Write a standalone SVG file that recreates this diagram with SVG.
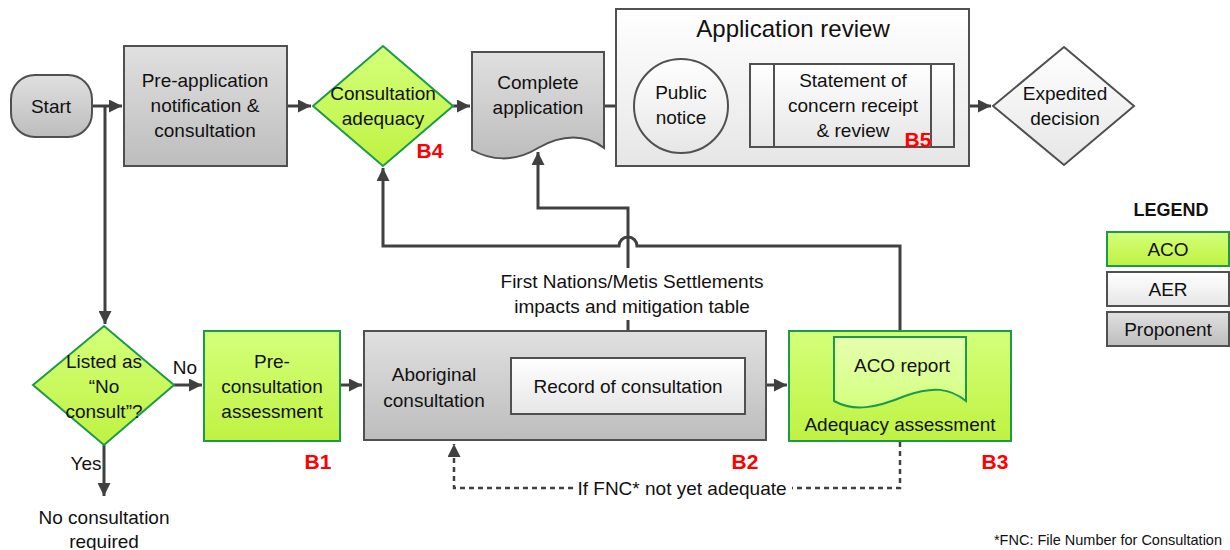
<svg xmlns="http://www.w3.org/2000/svg" width="1230" height="550" viewBox="0 0 1230 550">
<defs>
<linearGradient id="gGrey" x1="0" y1="0" x2="0" y2="1"><stop offset="0" stop-color="#e0e0e0"/><stop offset="1" stop-color="#bdbdbd"/></linearGradient>
<linearGradient id="gGreen" x1="0" y1="0" x2="0" y2="1"><stop offset="0" stop-color="#d4ff7a"/><stop offset="1" stop-color="#bff242"/></linearGradient>
<linearGradient id="gWhite" x1="0" y1="0" x2="0" y2="1"><stop offset="0" stop-color="#ffffff"/><stop offset="1" stop-color="#e6e6e6"/></linearGradient>
<linearGradient id="gLightGreen" x1="0" y1="0" x2="0" y2="1"><stop offset="0" stop-color="#e6ffb0"/><stop offset="1" stop-color="#d4ff80"/></linearGradient>
<marker id="arr" viewBox="0 0 10 10" refX="10" refY="5" markerWidth="13" markerHeight="13" markerUnits="userSpaceOnUse" orient="auto"><path d="M0,0 L10,5 L0,10 z" fill="#404040"/></marker>
</defs>
<style>
text{font-family:"Liberation Sans",Arial,sans-serif;font-size:19px;fill:#111;text-anchor:middle}
.grey{fill:url(#gGrey);stroke:#505050;stroke-width:2}
.green{fill:url(#gGreen);stroke:#1c9a4a;stroke-width:2}
.white{fill:url(#gWhite);stroke:#505050;stroke-width:2}
.conn{fill:none;stroke:#404040;stroke-width:3}
.dash{fill:none;stroke:#404040;stroke-width:2.5;stroke-dasharray:5 4}
.red{fill:#ff0000;font-weight:bold;font-size:21px}
.lbl{font-size:19px}
</style>

<g id="connectors">
<path class="conn" d="M92,106 H122" marker-end="url(#arr)"/>
<path class="conn" d="M105,106 V324" marker-end="url(#arr)"/>
<path class="conn" d="M287,106 H311" marker-end="url(#arr)"/>
<path class="conn" d="M453,106 H470" marker-end="url(#arr)"/>
<path class="conn" d="M604,106 H632" marker-end="url(#arr)"/>
<path class="conn" d="M728,106 H748" marker-end="url(#arr)"/>
<path class="conn" d="M954,106 H991" marker-end="url(#arr)"/>
<path class="conn" d="M174,385 H202" marker-end="url(#arr)"/>
<path class="conn" d="M104,445 V496" marker-end="url(#arr)"/>
<path class="conn" d="M340,385 H362" marker-end="url(#arr)"/>
<path class="conn" d="M745,385 H787" marker-end="url(#arr)"/>
<path class="conn" d="M628,358 V320"/>
<path class="conn" d="M628,268 V208 H538 V152" marker-end="url(#arr)"/>
<path class="conn" d="M900,331 V246 H637 A9,9 0 0 0 619,246 H383 V168" marker-end="url(#arr)"/>
<path class="dash" d="M900,442 V488 H792"/>
<path class="dash" d="M573,488 H454 V444" marker-end="url(#arr)"/>
<text x="185" y="374" class="lbl">No</text>
<text x="86" y="470" class="lbl">Yes</text>
<text x="632" y="288" class="lbl">First Nations/Metis Settlements</text>
<text x="632" y="313" class="lbl">impacts and mitigation table</text>
<text x="682" y="495" class="lbl">If FNC* not yet adequate</text>
</g>

<g id="start">
<rect x="11" y="75" width="81" height="62" rx="24" class="grey"/>
<text x="51" y="113">Start</text>
</g>

<g id="pre-application">
<rect x="124" y="46" width="163" height="120" class="grey"/>
<text x="205" y="87">Pre-application</text>
<text x="205" y="112">notification &amp;</text>
<text x="205" y="137">consultation</text>
</g>

<g id="consultation-adequacy">
<path d="M383,46 L453,106 L383,166 L313,106 Z" class="green"/>
<text x="383" y="100">Consultation</text>
<text x="383" y="125">adequacy</text>
<text x="430" y="158" class="red">B4</text>
</g>

<g id="complete-application">
<path d="M472,52 H604 V148 C586,134 562,134 538,148 C514,163 490,160 472,150 Z" class="grey"/>
<text x="538" y="89">Complete</text>
<text x="538" y="114">application</text>
</g>

<g id="application-review">
<rect x="616" y="9" width="353" height="157" fill="url(#gWhite)" stroke="#505050" stroke-width="2"/>
<text x="793" y="37" style="font-size:24px">Application review</text>
</g>

<g id="public-notice">
<circle cx="681" cy="106" r="47" class="white"/>
<text x="681" y="99">Public</text>
<text x="681" y="124">notice</text>
</g>

<g id="statement-of-concern">
<rect x="750" y="64" width="204" height="83" class="white"/>
<line x1="774" y1="64" x2="774" y2="147" stroke="#505050" stroke-width="2"/>
<line x1="931" y1="64" x2="931" y2="147" stroke="#505050" stroke-width="2"/>
<text x="853" y="87">Statement of</text>
<text x="853" y="112">concern receipt</text>
<text x="853" y="137">&amp; review</text>
<text x="918" y="147" class="red">B5</text>
</g>

<g id="expedited-decision">
<path d="M1064,47 L1134,106 L1064,165 L993,106 Z" class="white"/>
<text x="1065" y="100">Expedited</text>
<text x="1065" y="125">decision</text>
</g>

<g id="listed-no-consult">
<path d="M104,326 L174,385 L104,445 L33,385 Z" class="green"/>
<text x="104" y="368">Listed as</text>
<text x="104" y="393">“No</text>
<text x="104" y="418">consult”?</text>
</g>

<g id="no-consultation-required">
<text x="104" y="524">No consultation</text>
<text x="104" y="548">required</text>
</g>

<g id="pre-consultation">
<rect x="204" y="331" width="136" height="110" class="green"/>
<text x="272" y="368">Pre-</text>
<text x="272" y="393">consultation</text>
<text x="272" y="418">assessment</text>
<text x="318" y="469" class="red">B1</text>
</g>

<g id="aboriginal-consultation">
<rect x="364" y="331" width="402" height="109" class="grey"/>
<text x="434" y="381">Aboriginal</text>
<text x="434" y="407">consultation</text>
<text x="745" y="469" class="red">B2</text>
</g>

<g id="record-of-consultation">
<rect x="511" y="358" width="234" height="56" class="white"/>
<text x="628" y="393">Record of consultation</text>
</g>

<g id="adequacy-assessment">
<rect x="789" y="331" width="222" height="110" class="green"/>
<path d="M834,337 H966 V401 C950,388 933,386 905,396 C876,408 854,412 834,401 Z" fill="url(#gLightGreen)" stroke="#1c9a4a" stroke-width="2"/>
<text x="902" y="372">ACO report</text>
<text x="900" y="431">Adequacy assessment</text>
<text x="995" y="469" class="red">B3</text>
</g>

<g id="legend">
<text x="1171" y="216" style="font-weight:bold;font-size:18px">LEGEND</text>
<rect x="1107" y="232" width="122" height="34" class="green"/>
<text x="1168" y="256">ACO</text>
<rect x="1107" y="272" width="122" height="34" class="white"/>
<text x="1168" y="296">AER</text>
<rect x="1107" y="312" width="122" height="34" class="grey"/>
<text x="1168" y="336">Proponent</text>
</g>

<g id="footnote">
<text x="1222" y="545" style="text-anchor:end;font-size:14.5px">*FNC: File Number for  Consultation</text>
</g>
</svg>
